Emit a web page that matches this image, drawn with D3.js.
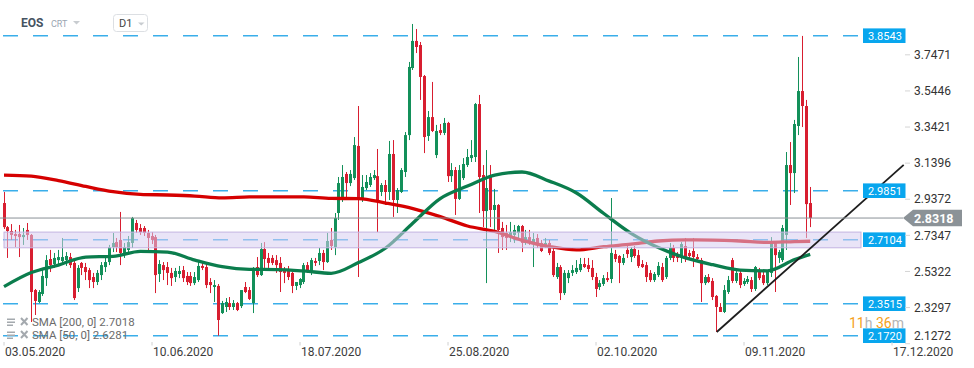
<!DOCTYPE html>
<html>
<head>
<meta charset="utf-8">
<script src="https://cdn.jsdelivr.net/npm/d3@7"></script>
<style>
  html, body { margin: 0; padding: 0; background: #fff; }
  svg { display: block; font-family: Roboto, "Open Sans", sans-serif; }
</style>
</head>
<body>
<div id="chart"></div>
<script>
// EOS daily candles, one per day from startDay
const startDay = "2020-05-03";

const opens = [
  2.916, 2.781, 2.759, 2.742, 2.742, 2.725, 2.765, 2.737, 2.428, 2.361,
  2.406, 2.495, 2.602, 2.574, 2.596, 2.591, 2.596, 2.613, 2.580, 2.439,
  2.580, 2.557, 2.540, 2.501, 2.473, 2.512, 2.557, 2.585, 2.669, 2.697,
  2.709, 2.636, 2.653, 2.692, 2.804, 2.776, 2.776, 2.748, 2.731, 2.725,
  2.518, 2.568, 2.557, 2.524, 2.501, 2.518, 2.540, 2.507, 2.507, 2.467,
  2.484, 2.563, 2.557, 2.473, 2.445, 2.451, 2.299, 2.333, 2.355, 2.333,
  2.355, 2.338, 2.445, 2.428, 2.355, 2.557, 2.512, 2.658, 2.608, 2.608,
  2.596, 2.580, 2.540, 2.540, 2.524, 2.451, 2.456, 2.473, 2.568, 2.529,
  2.591, 2.591, 2.636, 2.585, 2.709, 2.669, 2.860, 2.950, 3.079, 3.028,
  3.056, 3.236, 2.944, 3.000, 3.017, 3.056, 3.067, 2.978, 3.017, 2.978,
  3.191, 2.933, 2.978, 3.090, 3.297, 3.673, 3.825, 3.802, 3.628, 3.292,
  3.398, 3.185, 3.325, 3.309, 3.365, 3.067, 3.101, 2.939, 3.056, 3.129,
  3.168, 3.174, 3.471, 3.073, 2.871, 3.062, 2.877, 2.905, 2.776, 2.748,
  2.725, 2.737, 2.748, 2.787, 2.692, 2.725, 2.697, 2.720, 2.692, 2.675,
  2.692, 2.647, 2.501, 2.557, 2.411, 2.495, 2.524, 2.529, 2.540, 2.574,
  2.568, 2.552, 2.501, 2.445, 2.462, 2.495, 2.490, 2.630, 2.619, 2.580,
  2.653, 2.613, 2.658, 2.624, 2.574, 2.568, 2.524, 2.484, 2.512, 2.557,
  2.501, 2.608, 2.664, 2.624, 2.613, 2.675, 2.636, 2.647, 2.613, 2.596,
  2.467, 2.501, 2.479, 2.395, 2.333, 2.305, 2.417, 2.596, 2.479, 2.524,
  2.462, 2.473, 2.484, 2.434, 2.535, 2.512, 2.467, 2.524, 2.692, 2.608,
  2.596, 2.737, 3.129, 3.084, 3.348, 3.544, 3.460, 2.916
];
const highs = [
  2.978, 2.787, 2.798, 2.765, 2.793, 2.776, 2.804, 2.742, 2.434, 2.428,
  2.552, 2.624, 2.653, 2.636, 2.653, 2.720, 2.641, 2.636, 2.596, 2.568,
  2.585, 2.580, 2.552, 2.524, 2.540, 2.585, 2.608, 2.681, 2.748, 2.720,
  2.866, 2.692, 2.731, 2.838, 2.821, 2.798, 2.787, 2.765, 2.753, 2.737,
  2.596, 2.585, 2.585, 2.552, 2.552, 2.563, 2.563, 2.529, 2.529, 2.529,
  2.585, 2.585, 2.574, 2.495, 2.484, 2.462, 2.367, 2.383, 2.389, 2.372,
  2.361, 2.428, 2.473, 2.445, 2.557, 2.613, 2.692, 2.697, 2.636, 2.624,
  2.624, 2.613, 2.557, 2.563, 2.529, 2.473, 2.495, 2.580, 2.585, 2.608,
  2.608, 2.664, 2.653, 2.748, 2.776, 2.860, 3.062, 3.129, 3.090, 3.101,
  3.286, 3.460, 3.073, 3.073, 3.084, 3.101, 3.219, 3.028, 3.045, 3.264,
  3.269, 3.000, 3.112, 3.314, 3.707, 3.920, 3.892, 3.819, 3.634, 3.432,
  3.595, 3.354, 3.359, 3.393, 3.371, 3.140, 3.118, 3.129, 3.168, 3.219,
  3.269, 3.477, 3.522, 3.129, 3.213, 3.129, 2.995, 2.910, 2.810, 2.793,
  2.810, 2.793, 2.793, 2.793, 2.765, 2.765, 2.748, 2.742, 2.709, 2.720,
  2.709, 2.664, 2.580, 2.568, 2.540, 2.540, 2.568, 2.596, 2.608, 2.608,
  2.608, 2.596, 2.524, 2.484, 2.512, 2.529, 2.944, 2.653, 2.624, 2.630,
  2.681, 2.669, 2.675, 2.653, 2.596, 2.585, 2.540, 2.529, 2.585, 2.580,
  2.619, 2.692, 2.681, 2.641, 2.697, 2.720, 2.653, 2.720, 2.630, 2.608,
  2.512, 2.518, 2.495, 2.400, 2.355, 2.456, 2.507, 2.608, 2.540, 2.540,
  2.495, 2.507, 2.501, 2.563, 2.552, 2.529, 2.540, 2.725, 2.697, 2.653,
  2.793, 3.202, 3.258, 3.382, 3.735, 3.853, 3.494, 3.006
];
const lows = [
  2.770, 2.608, 2.709, 2.669, 2.613, 2.681, 2.709, 2.249, 2.288, 2.355,
  2.395, 2.451, 2.529, 2.552, 2.574, 2.580, 2.563, 2.552, 2.372, 2.417,
  2.512, 2.484, 2.439, 2.439, 2.456, 2.484, 2.529, 2.568, 2.641, 2.641,
  2.568, 2.608, 2.630, 2.664, 2.748, 2.737, 2.731, 2.653, 2.686, 2.411,
  2.473, 2.484, 2.456, 2.451, 2.473, 2.495, 2.473, 2.456, 2.451, 2.456,
  2.473, 2.540, 2.439, 2.411, 2.361, 2.172, 2.294, 2.305, 2.316, 2.316,
  2.310, 2.327, 2.411, 2.372, 2.299, 2.501, 2.507, 2.552, 2.552, 2.568,
  2.524, 2.417, 2.467, 2.484, 2.411, 2.428, 2.439, 2.462, 2.524, 2.512,
  2.563, 2.568, 2.540, 2.580, 2.653, 2.624, 2.821, 2.922, 2.933, 3.011,
  3.045, 2.501, 2.922, 2.989, 3.006, 3.045, 2.753, 2.955, 2.905, 2.933,
  2.838, 2.860, 2.972, 3.062, 3.269, 3.662, 3.757, 3.494, 3.196, 3.264,
  3.314, 3.168, 3.297, 3.297, 3.034, 3.034, 2.849, 2.933, 3.045, 3.118,
  3.146, 3.146, 2.860, 2.781, 2.467, 2.781, 2.765, 2.636, 2.653, 2.653,
  2.697, 2.692, 2.709, 2.641, 2.681, 2.681, 2.557, 2.664, 2.641, 2.664,
  2.624, 2.501, 2.490, 2.372, 2.400, 2.467, 2.507, 2.518, 2.529, 2.552,
  2.529, 2.484, 2.389, 2.428, 2.451, 2.473, 2.467, 2.585, 2.467, 2.568,
  2.608, 2.585, 2.608, 2.552, 2.552, 2.473, 2.473, 2.473, 2.501, 2.473,
  2.490, 2.596, 2.585, 2.585, 2.580, 2.585, 2.596, 2.557, 2.585, 2.361,
  2.456, 2.467, 2.372, 2.193, 2.305, 2.299, 2.406, 2.467, 2.467, 2.439,
  2.451, 2.462, 2.417, 2.423, 2.484, 2.456, 2.456, 2.501, 2.417, 2.580,
  2.585, 2.653, 2.905, 2.972, 3.297, 3.342, 2.720, 2.781
];
const closes = [
  2.781, 2.759, 2.737, 2.731, 2.725, 2.737, 2.737, 2.417, 2.367, 2.417,
  2.507, 2.596, 2.568, 2.608, 2.613, 2.613, 2.619, 2.568, 2.383, 2.552,
  2.552, 2.529, 2.484, 2.473, 2.524, 2.568, 2.585, 2.669, 2.692, 2.669,
  2.636, 2.669, 2.697, 2.832, 2.765, 2.753, 2.748, 2.720, 2.709, 2.512,
  2.574, 2.540, 2.524, 2.495, 2.535, 2.535, 2.495, 2.473, 2.467, 2.501,
  2.563, 2.552, 2.456, 2.456, 2.456, 2.260, 2.355, 2.361, 2.333, 2.355,
  2.316, 2.428, 2.417, 2.378, 2.552, 2.512, 2.658, 2.602, 2.580, 2.580,
  2.568, 2.529, 2.524, 2.501, 2.451, 2.473, 2.490, 2.568, 2.535, 2.596,
  2.580, 2.636, 2.585, 2.703, 2.675, 2.832, 3.028, 3.062, 3.028, 3.079,
  3.241, 2.944, 3.006, 3.034, 3.062, 3.073, 2.933, 3.017, 2.978, 3.191,
  2.933, 2.989, 3.101, 3.297, 3.679, 3.825, 3.791, 3.623, 3.286, 3.398,
  3.320, 3.320, 3.309, 3.365, 3.067, 3.101, 2.939, 3.101, 3.135, 3.174,
  3.185, 3.471, 3.062, 2.871, 3.000, 2.877, 2.905, 2.765, 2.725, 2.720,
  2.753, 2.765, 2.787, 2.692, 2.725, 2.692, 2.714, 2.681, 2.647, 2.692,
  2.636, 2.512, 2.557, 2.411, 2.524, 2.524, 2.540, 2.552, 2.574, 2.557,
  2.546, 2.501, 2.434, 2.467, 2.495, 2.484, 2.636, 2.602, 2.580, 2.608,
  2.630, 2.658, 2.619, 2.563, 2.557, 2.501, 2.484, 2.518, 2.563, 2.484,
  2.608, 2.664, 2.608, 2.608, 2.686, 2.613, 2.619, 2.613, 2.602, 2.467,
  2.501, 2.473, 2.389, 2.333, 2.305, 2.428, 2.484, 2.479, 2.524, 2.456,
  2.479, 2.490, 2.434, 2.557, 2.495, 2.467, 2.529, 2.692, 2.624, 2.641,
  2.776, 3.129, 3.084, 3.359, 3.544, 3.460, 2.910, 2.8318
];

// moving averages, at these day offsets
const smaDays = [0, 7, 14, 21, 28, 35, 42, 49, 56, 63, 70, 77, 84, 91, 98, 105,
  112, 119, 126, 133, 140, 147, 154, 161, 168, 175, 182, 189, 196, 203, 207];
const sma200 = [3.073, 3.067, 3.042, 3.009, 2.980, 2.965, 2.961, 2.955, 2.945, 2.950,
  2.951, 2.951, 2.942, 2.941, 2.916, 2.885, 2.840, 2.787, 2.757, 2.707,
  2.672, 2.653, 2.671, 2.686, 2.703, 2.709, 2.708, 2.703, 2.695, 2.700, 2.7018];
const sma50 = [2.447, 2.526, 2.568, 2.613, 2.617, 2.645, 2.641, 2.596, 2.559, 2.544,
  2.543, 2.535, 2.522, 2.582, 2.664, 2.804, 2.941, 3.011, 3.073, 3.090,
  3.039, 2.972, 2.857, 2.746, 2.666, 2.608, 2.570, 2.540, 2.536, 2.599, 2.6281];

const levels = [3.8543, 2.9851, 2.7104, 2.3515, 2.1720];
const zone = [2.665, 2.753];
const lastPrice = 2.8318;
const priceTicks = [3.7471, 3.5446, 3.3421, 3.1396, 2.9372, 2.7347, 2.5322, 2.3297, 2.1272];
const dateTicks = ["2020-05-03", "2020-06-10", "2020-07-18", "2020-08-25",
  "2020-10-02", "2020-11-09", "2020-12-17"];
const trendLine = [["2020-11-02", 2.193], ["2020-12-20", 3.13]];
const legendItems = [["SMA [200, 0]", 2.7018], ["SMA [50, 0]", 2.6281]];

const width = 974;
const height = 368;
const upColor = "#13905a";
const downColor = "#d81e30";

const parse = d3.utcParse("%Y-%m-%d");
const fmtDate = d3.utcFormat("%d.%m.%Y");
const fmtPrice = d3.format(".4f");
const day0 = parse(startDay);
const days = opens.map((_, i) => d3.utcDay.offset(day0, i));
const candles = days.map((d, i) => ({ date: d, o: opens[i], h: highs[i], l: lows[i], c: closes[i] }));

const x = d3.scaleUtc()
  .domain([parse(dateTicks[0]), parse(dateTicks[dateTicks.length - 1])])
  .range([4, 892]);
const y = d3.scaleLinear()
  .domain([levels[levels.length - 1], levels[0]])
  .range([335.7, 35.7]);

const svg = d3.select("#chart").append("svg")
  .attr("width", width)
  .attr("height", height);

// header
const head = svg.append("g");
head.append("text").attr("x", 21).attr("y", 27)
  .attr("font-size", 12).attr("font-weight", "bold").attr("fill", "#465361").text("EOS");
head.append("text").attr("x", 51).attr("y", 27)
  .attr("font-size", 9).attr("fill", "#9aa5b1").text("CRT");
head.append("path").attr("d", "M73,21L80,21L76.5,24.5Z").attr("fill", "#c8ccd0");
head.append("rect").attr("x", 113.5).attr("y", 14.5).attr("width", 34).attr("height", 17)
  .attr("rx", 3).attr("fill", "#fff").attr("stroke", "#dcdfe3");
head.append("text").attr("x", 119).attr("y", 27)
  .attr("font-size", 11).attr("fill", "#444").text("D1");
head.append("path").attr("d", "M138,22.5L144.5,22.5L141.25,25.5Z").attr("fill", "#c8ccd0");

// dashed level lines
svg.append("g").selectAll("line")
  .data(levels)
  .join("line")
  .attr("x1", 3).attr("x2", 858)
  .attr("y1", d => y(d)).attr("y2", d => y(d))
  .attr("stroke", "#3aaeea")
  .attr("stroke-width", 1.5)
  .attr("stroke-dasharray", "15,15");

// candles
const cg = svg.append("g").selectAll("g")
  .data(candles)
  .join("g")
  .attr("fill", d => d.c >= d.o ? upColor : downColor)
  .attr("stroke", d => d.c >= d.o ? upColor : downColor);
cg.append("line")
  .attr("x1", d => Math.round(x(d.date) - 1.5) + 1.5)
  .attr("x2", d => Math.round(x(d.date) - 1.5) + 1.5)
  .attr("y1", d => y(d.h))
  .attr("y2", d => y(d.l))
  .attr("stroke-width", 1);
cg.append("rect")
  .attr("x", d => Math.round(x(d.date) - 1.5))
  .attr("width", 3)
  .attr("y", d => y(Math.max(d.o, d.c)))
  .attr("height", d => Math.max(1, Math.abs(y(d.o) - y(d.c))))
  .attr("stroke", "none");

// moving averages
const smaLine = vals => d3.line()
  .x((d, i) => x(days[smaDays[i]]))
  .y(d => y(d))
  .curve(d3.curveMonotoneX)(vals);
svg.append("path").attr("d", smaLine(sma200))
  .attr("fill", "none").attr("stroke", "#d50000").attr("stroke-width", 3.3)
  .attr("stroke-linejoin", "round");
svg.append("path").attr("d", smaLine(sma50))
  .attr("fill", "none").attr("stroke", "#0b7d4d").attr("stroke-width", 3.3)
  .attr("stroke-linejoin", "round");

// support zone
svg.append("rect")
  .attr("x", 4).attr("width", 857)
  .attr("y", y(zone[1])).attr("height", y(zone[0]) - y(zone[1]))
  .attr("fill", "rgb(215,205,240)").attr("fill-opacity", 0.55)
  .attr("stroke", "#c3b3e0").attr("stroke-width", 1);

// trend line
svg.append("line")
  .attr("x1", x(parse(trendLine[0][0]))).attr("y1", y(trendLine[0][1]))
  .attr("x2", x(parse(trendLine[1][0]))).attr("y2", y(trendLine[1][1]))
  .attr("stroke", "#1e1e1e").attr("stroke-width", 1.8);

// last price line and tag
const py = y(lastPrice);
svg.append("line").attr("x1", 0).attr("x2", 903).attr("y1", py).attr("y2", py)
  .attr("stroke", "#8a9196").attr("stroke-width", 1);
svg.append("path")
  .attr("d", `M903,${py}L913,${py - 8.3}L962,${py - 8.3}L962,${py + 8.3}L913,${py + 8.3}Z`)
  .attr("fill", "#8b9297");
svg.append("text").attr("x", 914).attr("y", py + 4.5)
  .attr("font-size", 12.5).attr("font-weight", "bold").attr("fill", "#fff")
  .text(fmtPrice(lastPrice));

// level labels
const lab = svg.append("g").selectAll("g")
  .data(levels)
  .join("g")
  .attr("transform", d => `translate(863,${y(d)})`);
lab.append("rect").attr("x", 0).attr("y", -7.3).attr("width", 42.5).attr("height", 14.6)
  .attr("fill", "#08a6ee");
lab.append("text").attr("x", 5).attr("y", 4)
  .attr("font-size", 11).attr("fill", "#fff")
  .text(d => fmtPrice(d));

// price axis
const yt = svg.append("g").selectAll("g")
  .data(priceTicks)
  .join("g");
yt.append("line").attr("x1", 905).attr("x2", 910)
  .attr("y1", d => y(d)).attr("y2", d => y(d))
  .attr("stroke", "#d5d5d5");
yt.append("text").attr("x", 914)
  .attr("y", d => Math.min(y(d), 335.5))
  .attr("dy", "0.35em")
  .attr("font-size", 12).attr("fill", "#333")
  .text(d => fmtPrice(d));

// date axis
const xt = svg.append("g").selectAll("g")
  .data(dateTicks.map(parse))
  .join("g");
xt.append("line").attr("x1", d => x(d)).attr("x2", d => x(d))
  .attr("y1", 342).attr("y2", 345.5).attr("stroke", "#d0d0d0");
xt.append("text").attr("x", d => x(d) + 1).attr("y", 355.5)
  .attr("font-size", 12).attr("fill", "#3c3c3c")
  .text(d => fmtDate(d));

// legend
const leg = svg.append("g").selectAll("g")
  .data(legendItems)
  .join("g")
  .attr("transform", (d, i) => `translate(0,${325.5 + i * 13})`);
leg.append("path").attr("d", "M7,-7h8v1.6h-8zM7,-4h8v1.6h-8zM7,-1h6v1.6h-6z").attr("fill", "#a4a9ae");
leg.append("path").attr("d", "M21,-7.5L27.5,-0.5M27.5,-7.5L21,-0.5")
  .attr("stroke", "#a4a9ae").attr("stroke-width", 2);
leg.append("text").attr("x", 32).attr("y", 0)
  .attr("font-size", 11.5).attr("fill", "#6b6b6b")
  .text(d => `${d[0]} ${fmtPrice(d[1])}`);

// candle countdown
const timer = svg.append("text").attr("x", 849).attr("y", 328)
  .attr("font-size", 14);
[["11", "#f6a11a"], ["h ", "#b4b4b4"], ["36", "#f6a11a"], ["m", "#b4b4b4"]]
  .forEach(p => timer.append("tspan").attr("fill", p[1]).text(p[0]));
</script>
</body>
</html>
